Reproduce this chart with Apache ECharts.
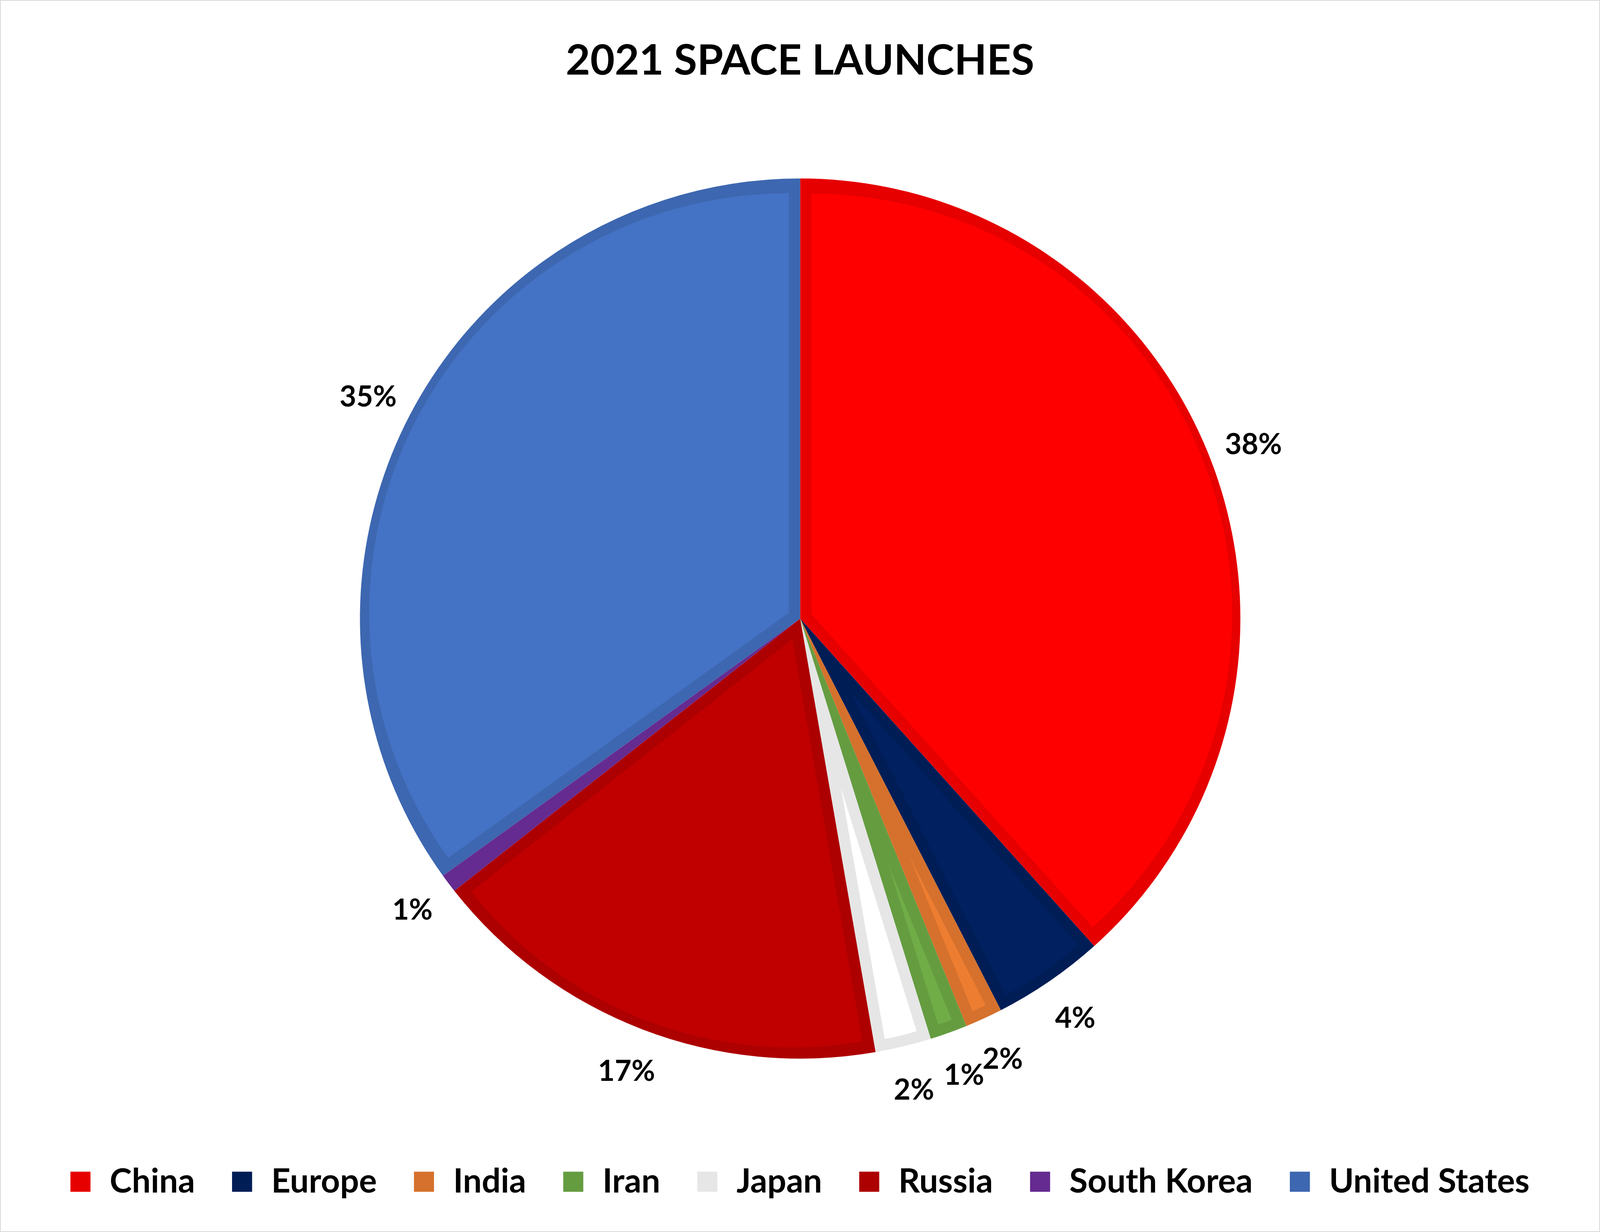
<!DOCTYPE html>
<html>
<head>
<meta charset="utf-8">
<script src="https://cdn.jsdelivr.net/npm/echarts@6/dist/echarts.min.js"></script>
<style>
html,body{margin:0;padding:0;background:#fff;overflow:hidden;width:100%;height:100%}
#c{position:absolute;left:0;top:0;width:100%;height:100%}
#f{position:absolute;left:0;top:0;width:100%;height:100%;box-sizing:border-box;border:2px solid #d9d9d9;pointer-events:none}
</style>
</head>
<body>
<div id="c"></div><div id="f"></div>
<script>
// ---- data ----
const titleText = '2021 SPACE LAUNCHES';
const categories = ['China', 'Europe', 'India', 'Iran', 'Japan', 'Russia', 'South Korea', 'United States'];
const launches = [56, 6, 2, 2, 3, 25, 1, 51];
const fillColors = ['#FF0000', '#002060', '#ED7D31', '#70AD47', '#FFFFFF', '#C00000', '#7030A0', '#4472C4'];
const edgeColors = ['#E60000', '#001D56', '#D5712C', '#659C40', '#E6E6E6', '#AD0000', '#652B90', '#3D67B0'];

// ---- layout (designed on a 5047 x 3155 frame, mapped onto the actual viewport) ----
const el = document.getElementById('c');
const SX = el.clientWidth / 5047, SY = el.clientHeight / 3155, SM = Math.sqrt(SX * SY);
const X = v => v * SX, Y = v => v * SY, Z = v => v * SM;
const FONT = 'Lato';
const CX = X(2524), CY = Y(1584), R = Z(1251), EDGE = Z(32);
const total = launches.reduce((a, b) => a + b, 0);
const TRANSPARENT = 'rgba(0,0,0,0)';

const common = {
  type: 'pie', center: [CX, CY], startAngle: 90, clockwise: true,
  silent: true, animation: false, emphasis: { disabled: true },
  labelLine: { show: false }, avoidLabelOverlap: false,
  labelLayout: { hideOverlap: false }
};

const series = [];
// outer (edge-coloured) pie
series.push(Object.assign({}, common, {
  name: 'edge', radius: [0, R],
  label: { show: false },
  itemStyle: { borderWidth: 0 },
  data: categories.map((c, i) => ({ name: c, value: launches[i], itemStyle: { color: edgeColors[i] } }))
}));
// inner fill of each slice, inset from its edges
categories.forEach((c, i) => {
  const half = Math.PI * launches[i] / total;
  const off = EDGE / Math.sin(half);
  const rho = R - EDGE - off * (1 + Math.cos(half)) / 2;
  if (!(rho > 0)) return;
  series.push(Object.assign({}, common, {
    name: 'fill-' + c, radius: [0, rho],
    selectedMode: 'multiple', selectedOffset: off,
    select: { itemStyle: { borderWidth: 0 } },
    label: { show: false },
    itemStyle: { borderWidth: 0 },
    data: categories.map((c2, j) => ({
      name: c2, value: launches[j], selected: j === i,
      itemStyle: { color: j === i ? fillColors[j] : TRANSPARENT }
    }))
  }));
});
// percentage labels on a transparent ring just outside the pie
series.push(Object.assign({}, common, {
  name: 'labels', radius: [R + Z(85), R + Z(165)], percentPrecision: 0,
  itemStyle: { color: TRANSPARENT, borderWidth: 0 },
  label: {
    show: true, position: 'inside', formatter: '{d}%',
    fontFamily: FONT, fontWeight: 'bold', fontSize: Z(82), color: '#000',
    textBorderWidth: 0
  },
  data: categories.map((c, i) => ({ name: c, value: launches[i] }))
}));

const chart = echarts.init(el, null, { renderer: 'canvas' });
chart.setOption({
  backgroundColor: '#fff',
  animation: false,
  title: {
    text: titleText, left: 'center', top: Y(151) - Z(61),
    textStyle: { fontFamily: FONT, fontWeight: 'bold', fontSize: Z(120), lineHeight: Z(122), color: '#000' }
  },
  legend: {
    data: categories, left: 'center', top: Y(3013) - Z(33), padding: 0,
    icon: 'rect', itemWidth: Z(57), itemHeight: Z(57), itemGap: X(117),
    textStyle: { fontFamily: FONT, fontWeight: 'bold', fontSize: Z(95), lineHeight: Z(57), color: '#000', padding: [0, 0, 0, Z(49)] }
  },
  series: series
});
</script>
</body>
</html>
